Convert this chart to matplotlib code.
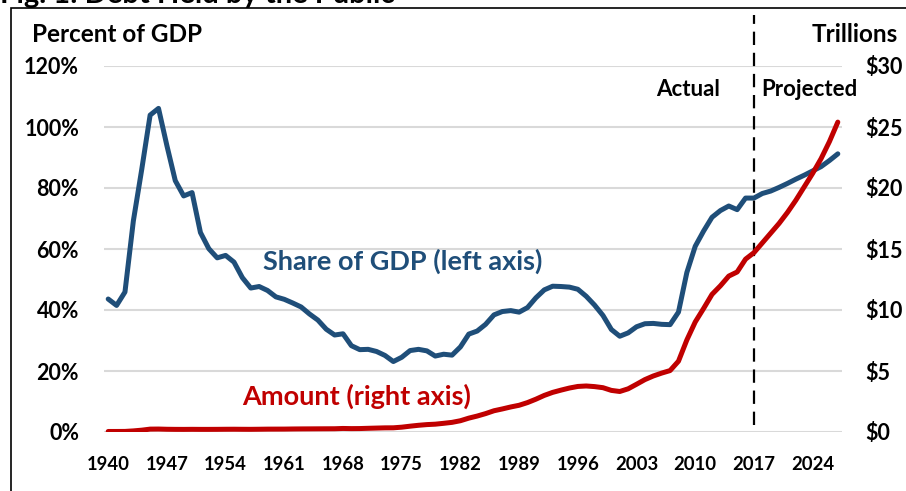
import matplotlib.pyplot as plt
from matplotlib.patches import Rectangle

plt.rcParams['font.family'] = ['Lato', 'DejaVu Sans']
plt.rcParams['font.weight'] = 'bold'

years = list(range(1940, 2028))

share_of_gdp = [
    43.6, 41.5, 45.9, 69.2, 86.1, 103.9, 106.1, 93.9, 82.4, 77.4,
    78.5, 65.4, 60.1, 57.1, 57.9, 55.7, 50.6, 47.2, 47.7, 46.4,
    44.3, 43.5, 42.3, 41.0, 38.7, 36.7, 33.7, 31.8, 32.2, 28.3,
    27.0, 27.1, 26.4, 25.1, 23.1, 24.5, 26.7, 27.1, 26.6, 24.9,
    25.5, 25.2, 27.9, 32.1, 33.1, 35.3, 38.4, 39.5, 39.8, 39.3,
    40.8, 44.0, 46.6, 47.8, 47.7, 47.5, 46.8, 44.5, 41.6, 38.2,
    33.6, 31.4, 32.5, 34.5, 35.5, 35.6, 35.3, 35.2, 39.3, 52.3,
    60.9, 65.9, 70.4, 72.6, 74.1, 72.9, 76.7, 76.7, 78.2, 79.0,
    80.2, 81.5, 82.9, 84.2, 85.6, 87.0, 89.0, 91.2,
]

amount_trillions = [
    0.043, 0.044, 0.048, 0.090, 0.150, 0.236, 0.242, 0.224, 0.216, 0.214,
    0.219, 0.215, 0.215, 0.218, 0.224, 0.227, 0.222, 0.219, 0.226, 0.235,
    0.237, 0.239, 0.248, 0.254, 0.257, 0.261, 0.264, 0.267, 0.290, 0.278,
    0.283, 0.303, 0.322, 0.340, 0.344, 0.395, 0.477, 0.550, 0.607, 0.641,
    0.712, 0.790, 0.924, 1.137, 1.307, 1.507, 1.741, 1.890, 2.052, 2.191,
    2.412, 2.689, 3.000, 3.248, 3.433, 3.604, 3.734, 3.772, 3.721, 3.632,
    3.410, 3.320, 3.540, 3.913, 4.295, 4.592, 4.829, 5.035, 5.803, 7.545,
    9.019, 10.128, 11.281, 11.983, 12.780, 13.117, 14.168, 14.700, 15.500, 16.300,
    17.100, 18.000, 19.000, 20.100, 21.200, 22.400, 23.800, 25.400,
]

left_ticks = [0, 20, 40, 60, 80, 100, 120]
right_ticks = [0, 5, 10, 15, 20, 25, 30]
year_ticks = list(range(1940, 2025, 7))

blue = '#1F4E79'
red = '#C00000'

fig = plt.figure(figsize=(9.06, 4.91), dpi=100)
ax = fig.add_axes([104 / 906, 1 - 432 / 491, 738 / 906, 366 / 491])
ax2 = ax.twinx()

for y in left_ticks:
    ax.axhline(y, color='#D9D9D9', lw=1.5, zorder=0)

ax.plot(years, share_of_gdp, color=blue, lw=3.6, solid_capstyle='round',
        solid_joinstyle='round', zorder=3)
ax2.plot(years, amount_trillions, color=red, lw=3.6, solid_capstyle='round',
         solid_joinstyle='round', zorder=3)

ax.set_xlim(1939.5, 2027.5)
ax.set_ylim(0, 120)
ax2.set_ylim(0, 30)

ax.set_yticks(left_ticks)
ax.set_yticklabels([f'{v}%' for v in left_ticks], fontsize=15.5, fontweight='bold')
ax2.set_yticks(right_ticks)
ax2.set_yticklabels([f'${v}' for v in right_ticks], fontsize=15.5, fontweight='bold')
ax.set_xticks(year_ticks)
ax.set_xticklabels([str(y) for y in year_ticks], fontsize=13.3, fontweight='bold')

ax.tick_params(axis='y', length=0, pad=18)
ax2.tick_params(axis='y', length=0, pad=17)
ax.tick_params(axis='x', length=0, pad=17)

for a in (ax, ax2):
    for s in a.spines.values():
        s.set_visible(False)

ax.axvline(2017, ymin=0.019, ymax=1.139, color='black', lw=1.6,
           dashes=(6, 3.5), clip_on=False, zorder=4)

ax.text(2009.1, 110.2, 'Actual', ha='center', va='baseline', fontsize=16,
        fontweight='bold')
ax.text(2017.9, 110.2, 'Projected', ha='left', va='baseline', fontsize=16,
        fontweight='bold')

ax.text(1958.5, 53.1, 'Share of GDP (left axis)', color=blue, fontsize=19.5,
        fontweight='bold', ha='left', va='baseline')
ax.text(1956, 8.9, 'Amount (right axis)', color=red, fontsize=19.5,
        fontweight='bold', ha='left', va='baseline')

fig.text(32 / 906, 1 - 34 / 491, 'Percent of GDP', fontsize=17.5,
         fontweight='bold', ha='left', va='center')
fig.text(898 / 906, 1 - 34 / 491, 'Trillions', fontsize=17.5,
         fontweight='bold', ha='right', va='center')

fig.text(0.0, 1 - 3 / 491, 'Fig. 1: Debt Held by the Public', fontsize=21,
         fontweight='bold', ha='left', va='baseline')

fig.patches.append(Rectangle((11 / 906, -0.1), 1.2, 1.1 - 8 / 491,
                             transform=fig.transFigure, fill=False,
                             edgecolor='black', lw=1.2))

fig.savefig('out.png', dpi=100)
